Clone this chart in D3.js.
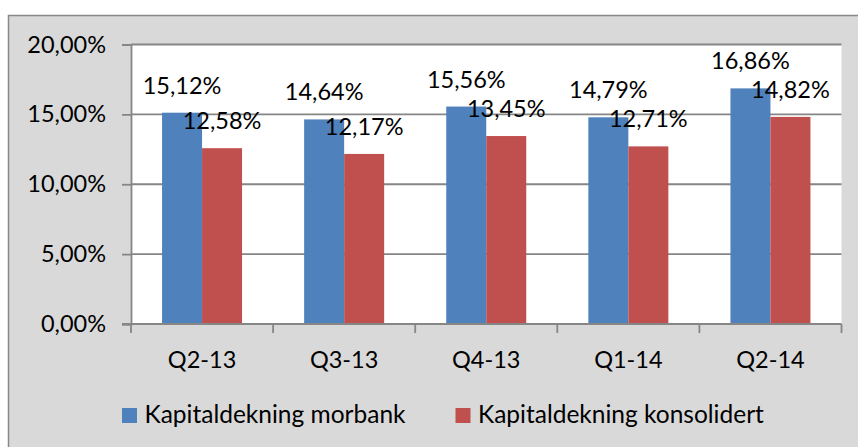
<!DOCTYPE html>
<html><head><meta charset="utf-8">
<script src="https://cdn.jsdelivr.net/npm/d3@7"></script>
<style>html,body{margin:0;padding:0;background:#fff;}svg{display:block;}</style>
</head><body>
<svg id="chart" width="858" height="447"></svg>
<script>
const categories = ["Q2-13", "Q3-13", "Q4-13", "Q1-14", "Q2-14"];
const seriesNames = ["Kapitaldekning morbank", "Kapitaldekning konsolidert"];
const morbank = [15.12, 14.64, 15.56, 14.79, 16.86];
const konsolidert = [12.58, 12.17, 13.45, 12.71, 14.82];
const yTicks = [0, 5, 10, 15, 20];
const colors = ["#4F81BD", "#C0504D"];

const fmt = v => v.toFixed(2).replace(".", ",") + "%";
const FONT = "Lato, 'Open Sans', sans-serif";
const FS = 23.5;

const svg = d3.select("#chart");
// outer chart area
svg.append("rect").attr("x", 8.5).attr("y", 15.5).attr("width", 870).attr("height", 460)
  .attr("fill", "#D9D9D9").attr("stroke", "#898989").attr("stroke-width", 1.5);

const plot = {left: 131, top: 44.5, right: 841.5, bottom: 324};
const x0 = d3.scaleBand().domain(categories).range([plot.left, plot.right])
  .paddingInner(0.437).paddingOuter(0.2185);
const x1 = d3.scaleBand().domain([0, 1]).range([0, x0.bandwidth()]);
const y = d3.scaleLinear().domain([0, 20]).range([plot.bottom, plot.top]);

svg.append("rect").attr("x", plot.left).attr("y", plot.top)
  .attr("width", plot.right - plot.left).attr("height", plot.bottom - plot.top).attr("fill", "#fff");

// gridlines
svg.append("g").selectAll("line").data(yTicks.filter(t => t > 0)).join("line")
  .attr("x1", plot.left).attr("x2", plot.right)
  .attr("y1", d => y(d)).attr("y2", d => y(d))
  .attr("stroke", "#868686").attr("stroke-width", 1.8);

// y axis
const yAxis = d3.axisLeft(y).tickValues(yTicks).tickSize(9).tickPadding(16).tickFormat(fmt);
const gy = svg.append("g").attr("transform", `translate(${plot.left},0)`).call(yAxis);
gy.select(".domain").attr("stroke", "#868686").attr("stroke-width", 1.8);
gy.selectAll(".tick line").attr("stroke", "#868686").attr("stroke-width", 1.8);
gy.selectAll(".tick text").attr("font-family", FONT).attr("font-size", FS).attr("fill", "#000");

// bars
const data = categories.map((c, i) => ({c, vals: [morbank[i], konsolidert[i]]}));
const groups = svg.append("g").selectAll("g").data(data).join("g")
  .attr("transform", d => `translate(${x0(d.c)},0)`);
groups.selectAll("rect").data(d => d.vals.map((v, k) => ({v, k}))).join("rect")
  .attr("x", d => x1(d.k)).attr("width", x1.bandwidth())
  .attr("y", d => y(d.v)).attr("height", d => y(0) - y(d.v))
  .attr("fill", d => colors[d.k]);

// x axis
const xTickPos = categories.map((c, i) => plot.left + i * x0.step()).concat([plot.right]);
const gx = svg.append("g");
gx.append("line").attr("x1", plot.left - 9).attr("x2", plot.right).attr("y1", plot.bottom).attr("y2", plot.bottom)
  .attr("stroke", "#868686").attr("stroke-width", 1.8);
gx.selectAll("line.t").data(xTickPos).join("line").attr("class", "t")
  .attr("x1", d => d).attr("x2", d => d).attr("y1", plot.bottom).attr("y2", plot.bottom + 9)
  .attr("stroke", "#868686").attr("stroke-width", 1.8);
gx.selectAll("text").data(categories).join("text")
  .attr("x", d => x0(d) + x0.bandwidth() / 2).attr("y", 367.5)
  .attr("text-anchor", "middle").attr("font-family", FONT).attr("font-size", FS).attr("fill", "#000")
  .text(d => d);

// data labels
groups.selectAll("text").data(d => d.vals.map((v, k) => ({v, k}))).join("text")
  .attr("x", d => x1(d.k) + x1.bandwidth() / 2).attr("y", d => y(d.v) - 19)
  .attr("text-anchor", "middle").attr("font-family", FONT).attr("font-size", FS).attr("fill", "#000")
  .text(d => fmt(d.v));

// legend
const legendX = [122, 455.5];
const lg = svg.append("g").selectAll("g").data(seriesNames).join("g")
  .attr("transform", (d, i) => `translate(${legendX[i]},408)`);
lg.append("rect").attr("width", 15).attr("height", 15).attr("fill", (d, i) => colors[i]);
lg.append("text").attr("x", 22.5).attr("y", 14.5).attr("font-family", FONT).attr("font-size", 24.5).attr("fill", "#000")
  .text(d => d);
</script>
</body></html>
